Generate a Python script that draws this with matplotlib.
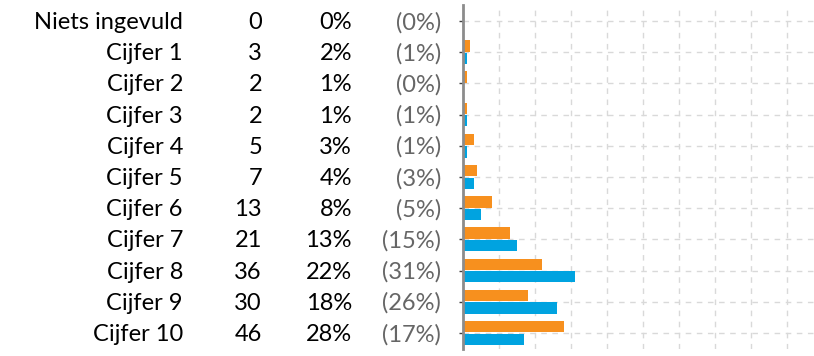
import matplotlib
matplotlib.use("Agg")
import matplotlib.pyplot as plt
import numpy as np
from matplotlib.transforms import blended_transform_factory

# data
labels = ['Niets ingevuld', 'Cijfer 1', 'Cijfer 2', 'Cijfer 3', 'Cijfer 4', 'Cijfer 5',
          'Cijfer 6', 'Cijfer 7', 'Cijfer 8', 'Cijfer 9', 'Cijfer 10']
counts = [0, 3, 2, 2, 5, 7, 13, 21, 36, 30, 46]
pct_now = [0, 2, 1, 1, 3, 4, 8, 13, 22, 18, 28]
pct_prev = [0, 1, 0, 1, 1, 3, 5, 15, 31, 26, 17]

orange = '#F7901E'
blue = '#00A3E0'

plt.rcParams['font.family'] = ['Lato', 'DejaVu Sans']

fig = plt.figure(figsize=(8.14, 3.56), dpi=100)
ax = fig.add_axes([463 / 814, 0.021, 1 - 463 / 814, 0.964])

y = np.arange(len(labels))
h = 0.36
ax.barh(y - h / 2 - 0.02, pct_now, height=h, color=orange, zorder=3)
ax.barh(y + h / 2 + 0.02, pct_prev, height=h, color=blue, zorder=3)

ax.set_ylim(10.5, -0.5)
ax.set_xlim(0, 97.5)
ax.set_xticks(np.arange(10, 100, 10))
ax.set_yticks(y)
ax.set_xticklabels([])
ax.set_yticklabels([])
ax.tick_params(axis='x', length=0)
ax.tick_params(axis='y', length=3, width=1, color='#404040', direction='out')
ax.grid(True, color='#D9D9D9', linestyle=(0, (4, 4)), linewidth=1, zorder=0)

for s in ['top', 'right', 'bottom']:
    ax.spines[s].set_visible(False)
ax.spines['left'].set_color('#8C8C8C')
ax.spines['left'].set_linewidth(2)
ax.spines['left'].set_zorder(4)

# text columns left of the bars
tr = blended_transform_factory(fig.transFigure, ax.transData)
fs = 17
for i in range(len(labels)):
    ax.text(183 / 814, i + 0.05, labels[i], transform=tr, ha='right', va='center',
            fontsize=fs, color='black')
    ax.text(262 / 814, i + 0.05, str(counts[i]), transform=tr, ha='right', va='center',
            fontsize=fs, color='black')
    ax.text(352 / 814, i + 0.05, f'{pct_now[i]}%', transform=tr, ha='right', va='center',
            fontsize=fs, color='black')
    ax.text(441 / 814, i + 0.05, f'({pct_prev[i]}%)', transform=tr, ha='right', va='center',
            fontsize=fs, color='#666666')

fig.savefig('out.png', dpi=100)
